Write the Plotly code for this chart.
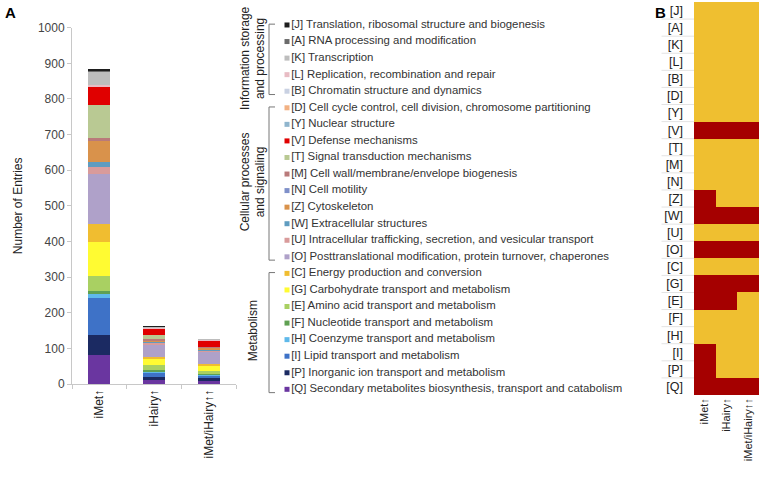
import plotly.graph_objects as go

# ---------------- data ----------------
codes = ["J", "A", "K", "L", "B", "D", "Y", "V", "T", "M", "N", "Z", "W", "U",
         "O", "C", "G", "E", "F", "H", "I", "P", "Q"]
names = [
    "Translation, ribosomal structure and biogenesis",
    "RNA processing and modification",
    "Transcription",
    "Replication, recombination and repair",
    "Chromatin structure and dynamics",
    "Cell cycle control, cell division, chromosome partitioning",
    "Nuclear structure",
    "Defense mechanisms",
    "Signal transduction mechanisms",
    "Cell wall/membrane/envelope biogenesis",
    "Cell motility",
    "Cytoskeleton",
    "Extracellular structures",
    "Intracellular trafficking, secretion, and vesicular transport",
    "Posttranslational modification, protein turnover, chaperones",
    "Energy production and conversion",
    "Carbohydrate transport and metabolism",
    "Amino acid transport and metabolism",
    "Nucleotide transport and metabolism",
    "Coenzyme transport and metabolism",
    "Lipid transport and metabolism",
    "Inorganic ion transport and metabolism",
    "Secondary metabolites biosynthesis, transport and catabolism",
]
colors = ["#1e1e1e", "#6b6b6b", "#bdbdbd", "#e8bcc4", "#c9d1e2", "#f2b183",
          "#8fb5cd", "#e00000", "#b9c993", "#b97a7a", "#7f90c9", "#d9924b",
          "#5f9cc0", "#d99b9b", "#afa1c9", "#f0bd30", "#fffb32", "#a9d062",
          "#5fa052", "#5fb9ea", "#3e72c7", "#1b2a62", "#6a36a0"]

groups = ["iMet\u2191", "iHairy\u2191", "iMet/iHairy\u2191\u2191"]
imet = [3, 3, 38, 4, 0, 0, 0, 51, 93, 9, 0, 59, 13, 20, 141, 50, 94, 44, 7, 12, 105, 56, 81]
ihairy = [1, 1, 3, 1, 0, 0, 0, 20, 10, 3, 0, 5, 3, 4, 34, 5, 18, 14, 5, 4, 12, 9, 11]
both = [0, 0, 1, 1, 0, 0, 0, 20, 0, 1, 0, 4, 5, 3, 33, 6, 14, 8, 3, 3, 7, 7, 10]

# heatmap: 1 = enriched (red), 0 = not (yellow); columns follow `groups`
heat = [
    [0, 0, 0], [0, 0, 0], [0, 0, 0], [0, 0, 0], [0, 0, 0], [0, 0, 0], [0, 0, 0],
    [1, 1, 1], [0, 0, 0], [0, 0, 0], [0, 0, 0], [1, 0, 0], [1, 1, 1], [0, 0, 0],
    [1, 1, 1], [0, 0, 0], [1, 1, 1], [1, 1, 0], [0, 0, 0], [0, 0, 0], [1, 0, 0],
    [1, 0, 0], [1, 1, 1],
]
group_spans = [("Information storage<br>and processing", 0, 4),
               ("Cellular processes<br>and signaling", 5, 14),
               ("Metabolism", 15, 22)]

W, H = 761, 480
FONT = "Liberation Sans, Arial, sans-serif"
row_labels = [f"[{c}]" for c in codes]

fig = go.Figure()

# stacked bars: bottom first (Q) up to top (J)
for i in reversed(range(len(codes))):
    fig.add_trace(go.Bar(
        x=groups, y=[imet[i], ihairy[i], both[i]],
        marker=dict(color=colors[i], line=dict(width=0)),
        width=0.4, name=f"[{codes[i]}] {names[i]}",
        showlegend=False, xaxis="x", yaxis="y",
    ))

# custom legend (markers + text on a hidden axis)
fig.add_trace(go.Scatter(
    x=[0] * len(codes), y=codes, mode="markers+text",
    marker=dict(symbol="square", size=5, color=colors),
    text=[f"[{c}] {n}" for c, n in zip(codes, names)],
    textposition="middle right",
    textfont=dict(size=11.4, color="#333333", family=FONT),
    xaxis="x3", yaxis="y3", showlegend=False, hoverinfo="skip",
    cliponaxis=False,
))

# heatmap
fig.add_trace(go.Heatmap(
    z=heat, x=groups, y=row_labels,
    colorscale=[[0, "#efbf30"], [1, "#a50000"]], zmin=0, zmax=1,
    showscale=False, xaxis="x2", yaxis="y2", hoverinfo="skip",
))

shapes = []
annotations = []
for label, a, b in group_spans:
    y0, y1 = a - 0.05, b + 0.2
    for (x0, x1, ya, yb) in [(-18, -18, y0, y1), (-18, -12, y0, y0), (-18, -12, y1, y1)]:
        shapes.append(dict(type="line", xref="x3", yref="y3", x0=x0, x1=x1, y0=ya, y1=yb,
                           line=dict(color="#777777", width=1)))
    annotations.append(dict(xref="x3", yref="y3", x=-34, y=(a + b) / 2, text=label,
                            textangle=-90, showarrow=False,
                            font=dict(size=12, color="#222222", family=FONT)))

# faint row separators to the left of the heatmap
for k in range(len(codes) - 1):
    shapes.append(dict(type="line", xref="x2 domain", yref="y2", x0=-0.5, x1=0,
                       y0=k + 0.5, y1=k + 0.5, line=dict(color="#e3e3e3", width=1),
                       layer="below"))

annotations += [
    dict(xref="paper", yref="paper", x=3 / W, y=1 - 2 / H, xanchor="left", yanchor="top",
         text="<b>A</b>", showarrow=False, font=dict(size=15, color="#000", family=FONT)),
    dict(xref="paper", yref="paper", x=653 / W, y=1 - 2 / H, xanchor="left", yanchor="top",
         text="<b>B</b>", showarrow=False, font=dict(size=15, color="#000", family=FONT)),
]

fig.update_layout(
    width=W, height=H, margin=dict(l=0, r=0, t=0, b=0, pad=0, autoexpand=False),
    paper_bgcolor="white", plot_bgcolor="white",
    barmode="stack", bargap=0, showlegend=False,
    font=dict(family=FONT, color="#333333"),
    xaxis=dict(domain=[72 / W, 236 / W], range=[-0.5, 2.5], showgrid=False,
               showline=True, linecolor="#c8c8c8", linewidth=1,
               ticks="outside", tickson="boundaries", ticklen=4, tickcolor="#c8c8c8",
               tickangle=-90, tickfont=dict(size=12, color="#222222"), anchor="y",
               automargin=False),
    yaxis=dict(domain=[(H - 384) / H, (H - 27.7) / H], range=[0, 1000], dtick=100,
               showgrid=False, zeroline=False, showline=True, linecolor="#c8c8c8",
               ticks="outside", ticklen=4, tickcolor="#c8c8c8",
               tickfont=dict(size=12, color="#444444"),
               title=dict(text="Number of Entries", font=dict(size=12, color="#222222"),
                          standoff=12), anchor="x", automargin=False),
    xaxis3=dict(domain=[240 / W, 655 / W], range=[-47, 368], visible=False, anchor="y3",
                automargin=False),
    yaxis3=dict(domain=[(H - 397.6) / H, (H - 16.7) / H], range=[22.5, -0.5],
                type="category", categoryorder="array", categoryarray=codes,
                visible=False, anchor="x3", automargin=False),
    xaxis2=dict(domain=[694 / W, 759 / W], showgrid=False, showline=False, ticks="",
                tickangle=-90, tickfont=dict(size=11, color="#222222"), anchor="y2",
                automargin=False, ticklabeloverflow="allow"),
    yaxis2=dict(domain=[(H - 395) / H, (H - 2) / H], autorange="reversed",
                type="category", showgrid=False, showline=False, ticks="",
                ticklabelstandoff=10, tickfont=dict(size=12.5, color="#222222"),
                anchor="x2", automargin=False),
    shapes=shapes, annotations=annotations,
)

fig.write_html(
    "out.html",
    config={"displayModeBar": False},
    post_script="document.body.style.margin='0';document.body.style.padding='0';"
                "document.body.style.overflow='hidden';",
)
